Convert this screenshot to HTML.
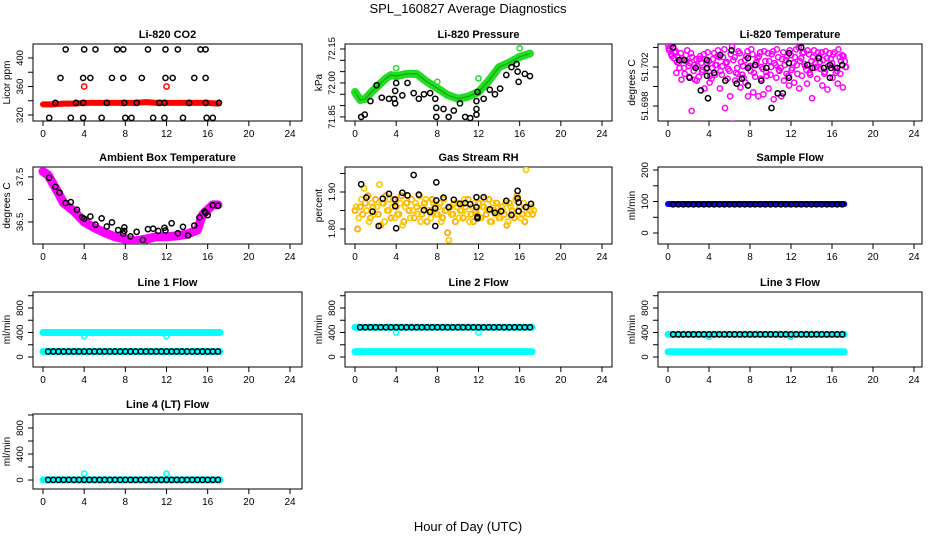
<!DOCTYPE html>
<html><head><meta charset="utf-8"><style>
html,body{margin:0;padding:0;background:#fff;}
svg{display:block;font-family:"Liberation Sans",sans-serif;}
</style></head><body>
<svg id="chart" width="936" height="540" viewBox="0 0 936 540" xmlns="http://www.w3.org/2000/svg">
<rect x="0" y="0" width="936" height="540" fill="#fff"/>
<text x="468" y="13" text-anchor="middle" font-size="13">SPL_160827  Average Diagnostics</text>
<text x="468" y="531" text-anchor="middle" font-size="13">Hour of Day (UTC)</text>
</svg>
<script>
// ---------- data ----------
const xTicks = [0,4,8,12,16,20,24];
// CO2
const co2RedHours = [0,1,2,3,4,5,6,7,8,9,10,11,12,13,14,15,16,17];
const co2Red = [335,335,336,336,337,337,337,337,337,337,338,337,337,337,337,337,337,336];
const co2BlackHours = [2.2,4.0,5.1,7.2,7.8,10.2,11.9,13.1,15.3,15.8, 1.7,3.9,4.6,6.7,7.8,9.6,11.9,12.6,14.7,15.8, 1.2,3.2,3.9,6.2,7.9,9.1,11.3,11.8,14.2,15.8,17.1, 0.6,2.7,3.9,5.7,8.0,8.6,10.7,11.8,13.6,15.9,16.5];
const co2Black = [412,412,412,412,412,412,412,412,412,412, 372,372,372,372,372,372,372,372,372,372, 337,337,337,337,337,337,337,337,337,337,337, 316,316,316,316,316,316,316,316,316,316,316];
const co2OutHours = [4.0,12.0];
const co2Out = [360,360];
// Pressure
const presGreenHours = [0,0.5,1,1.5,2,3,3.5,4,5,6,7,8,9,10,11,12,13,14,15,16,17];
const presGreen = [71.96,71.925,71.93,71.955,71.977,72.02,72.035,72.03,72.04,72.04,72.005,71.977,71.947,71.93,71.94,71.96,72.01,72.07,72.09,72.115,72.13];
const presGreenOutHours = [0,4.0,8.0,12.0,16.0];
const presGreenOut = [71.96,72.065,72.005,72.02,72.153];
const presBlackHours = [0.6,0.95,1.5,2.1,2.6,3.3,3.8,3.9,3.9,4.0,4.6,5.1,5.7,6.2,6.7,7.3,7.8,7.9,7.9,8.6,9.1,9.6,10.2,10.7,11.2,11.8,11.8,11.8,11.9,12.5,13.1,13.6,14.1,14.7,15.2,15.7,15.8,15.9,16.5,17.0];
const presBlack = [71.85,71.86,71.92,71.99,71.935,71.93,71.93,71.91,71.965,72.0,71.945,72.0,71.955,71.93,71.95,71.955,71.93,71.89,71.85,71.885,71.85,71.878,71.91,71.85,71.845,71.885,71.86,71.92,71.96,71.93,71.97,71.95,71.975,72.035,72.07,72.083,72.05,72.005,72.04,72.03];
// Li-820 temperature
const tempMagA = [51.7043,51.7041,51.7039,51.7036,51.7030,51.7034,51.7027,51.7032,51.7021,51.7034,51.7016,51.7028,51.7010,51.7024,51.7033,51.7018,51.7026,51.7008,51.7034,51.7022,51.7030,51.7012,51.7038,51.7025,51.7016,51.7041,51.7030,51.7019,51.7034,51.7012,51.7027,51.7036,51.7021,51.7033,51.7010,51.7029,51.7035,51.7018,51.7026,51.7034,51.7012,51.7036,51.7022,51.7030,51.7019,51.7035,51.7027,51.7011,51.7032,51.7024,51.7038,51.7040,51.7029,51.7035,51.7017,51.7033,51.7026,51.7037,51.7020,51.7031,51.7035,51.7013,51.7029,51.7034,51.7024,51.7035,51.7016,51.7030,51.7032,51.7026];
const tempMagB = [51.7039,51.7033,51.7029,51.7014,51.7024,51.7007,51.7019,51.7026,51.7010,51.6975,51.7022,51.7006,51.7028,51.7015,51.6998,51.7024,51.7004,51.7019,51.7012,51.7031,51.6998,51.7021,51.6978,51.7008,51.6990,51.6962,51.7006,51.7013,51.6999,51.7021,51.7004,51.6990,51.7016,51.6994,51.7022,51.6990,51.7008,51.6992,51.7015,51.6998,51.7020,51.6987,51.7009,51.7017,51.6990,51.7006,51.7013,51.7001,51.7017,51.7004,51.7022,51.6998,51.7011,51.7023,51.7003,51.7014,51.6988,51.7019,51.7008,51.7025,51.7001,51.7015,51.6997,51.7022,51.7009,51.7019,51.7003,51.7013,51.6999,51.7020];
const tempMagC = [51.7037,51.7031,51.7035,51.7025,51.7019,51.7029,51.7013,51.7037,51.7024,51.7030,51.7007,51.7021,51.7031,51.7017,51.7028,51.7035,51.7011,51.7028,51.7022,51.7037,51.7016,51.7030,51.7024,51.7018,51.7033,51.7027,51.7014,51.7036,51.7025,51.7009,51.7031,51.7020,51.7038,51.7014,51.7025,51.7031,51.7020,51.7036,51.7011,51.7026,51.7033,51.7024,51.7038,51.7016,51.7028,51.7022,51.7031,51.7037,51.7019,51.7030,51.7013,51.7026,51.7034,51.7021,51.7037,51.7012,51.7030,51.7024,51.7035,51.7018,51.7027,51.7036,51.7021,51.7028,51.7033,51.7014,51.7038,51.7026,51.7031,51.7020];
const tempBlackHours = [0.5,1.1,1.6,2.7,2.1,3.2,3.8,3.8,3.8,3.9,4.5,5.1,5.6,6.2,6.7,7.2,7.8,7.8,7.8,8.5,9.1,9.6,10.1,10.7,11.2,11.8,11.8,11.8,13.0,13.6,14.1,14.7,15.2,15.8,15.8,15.9,16.5,17.0];
const tempBlack = [51.704,51.7027,51.7027,51.7019,51.7009,51.6996,51.7027,51.7019,51.7011,51.6988,51.7014,51.7032,51.7006,51.7037,51.7003,51.7008,51.7029,51.7019,51.7001,51.7022,51.7006,51.7019,51.6978,51.6993,51.6993,51.7034,51.7024,51.7009,51.704,51.7022,51.7019,51.7029,51.7019,51.7022,51.7009,51.7019,51.7019,51.7022];
// Ambient box temperature
const ambHours = [0,0.5,1,1.5,2,3,4,5,6,7,8,9,10,11,12,13,14,15,15.5,16,16.5,17];
const ambMag = [37.62,37.54,37.34,37.14,36.92,36.74,36.5,36.37,36.26,36.17,36.12,36.08,36.12,36.17,36.17,36.19,36.23,36.32,36.66,36.77,36.88,36.88];
const ambBlackHours = [0.6,1.2,1.6,2.2,2.7,3.3,3.8,4.0,4.6,5.1,5.7,6.2,6.7,7.3,7.8,7.9,7.9,8.5,9.1,9.7,10.2,10.7,11.2,11.8,11.9,12.5,13.1,13.6,14.1,14.7,15.2,15.7,15.8,16.0,16.5,17.0];
const ambBlack = [37.48,37.28,37.15,36.92,36.94,36.77,36.6,36.57,36.62,36.44,36.58,36.4,36.49,36.32,36.24,36.38,36.3,36.18,36.28,36.1,36.34,36.35,36.3,36.37,36.31,36.47,36.25,36.39,36.2,36.42,36.6,36.73,36.7,36.65,36.87,36.86];
// Gas stream RH
const rhA = [1.85,1.80,1.86,1.84,1.87,1.89,1.83,1.86,1.88,1.84,1.81,1.87,1.89,1.85,1.83,1.88,1.86,1.84,1.89,1.82,1.87,1.85,1.88,1.83,1.86,1.89,1.84,1.87,1.82,1.85,1.88,1.86,1.84,1.87,1.83,1.85,1.79,1.86,1.84,1.82,1.87,1.85,1.83,1.86,1.88,1.84,1.82,1.85,1.87,1.83,1.86,1.84,1.88,1.82,1.85,1.87,1.83,1.86,1.84,1.81,1.87,1.85,1.83,1.89,1.86,1.84,1.82,1.86,1.85,1.84];
const rhB = [1.86,1.83,1.88,1.91,1.85,1.82,1.87,1.84,1.86,1.92,1.87,1.82,1.85,1.88,1.86,1.83,1.84,1.87,1.81,1.86,1.89,1.83,1.85,1.87,1.84,1.82,1.86,1.88,1.85,1.83,1.87,1.84,1.86,1.82,1.88,1.85,1.77,1.84,1.87,1.86,1.83,1.85,1.88,1.84,1.82,1.86,1.87,1.84,1.83,1.86,1.88,1.85,1.82,1.87,1.84,1.86,1.83,1.85,1.87,1.82,1.86,1.84,1.88,1.85,1.83,1.87,1.96,1.84,1.86,1.85];
const rhBlackHours = [0.6,1.1,1.7,2.3,2.7,3.3,3.9,3.9,4.0,4.6,5.1,5.7,6.2,6.7,7.3,7.8,7.8,7.9,7.9,8.6,9.1,9.6,10.2,10.7,11.2,11.8,11.8,11.9,11.9,12.5,13.1,13.6,14.2,14.7,15.2,15.8,15.8,15.9,15.9,16.6,17.1];
const rhBlack = [1.921,1.885,1.847,1.808,1.882,1.895,1.880,1.862,1.802,1.898,1.891,1.946,1.893,1.851,1.846,1.856,1.808,1.877,1.926,1.885,1.859,1.879,1.868,1.870,1.867,1.886,1.859,1.833,1.829,1.886,1.853,1.844,1.848,1.876,1.838,1.883,1.903,1.872,1.848,1.859,1.868];
// Flows
const bandHours = [0,4,8,12,16,17.2];
const sampleBlue = [92,92,92,92,92,92];
const line1Hi = [400,400,400,400,400,400];
const line1Lo = [90,90,90,90,90,90];
const line2Hi = [485,485,485,485,485,485];
const line2Lo = [88,88,88,88,88,88];
const line3Hi = [370,370,370,370,370,370];
const line3Lo = [85,85,85,85,85,85];
const line4Band = [2,2,2,2,2,2];
const flowOutHours = [4,12];
const line1Out = [340,340];
const line2Out = [400,400];
const line3Out = [330,330];
const line4Out = [100,100];
const sampleBlack = [91,91,91,91,91,91,91,91,91,91,91,91,91,91,91,91,91,91,91,91,91,91,91,91,91,91,91,91,91,91,91,91,91,91];
const line1Black = [90,90,90,90,90,90,90,90,90,90,90,90,90,90,90,90,90,90,90,90,90,90,90,90,90,90,90,90,90,90,90,90,90,90];
const line2Black = [485,485,485,485,485,485,485,485,485,485,485,485,485,485,485,485,485,485,485,485,485,485,485,485,485,485,485,485,485,485,485,485,485,485];
const line3Black = [370,370,370,370,370,370,370,370,370,370,370,370,370,370,370,370,370,370,370,370,370,370,370,370,370,370,370,370,370,370,370,370,370,370];
const line4Black = [2,2,2,2,2,2,2,2,2,2,2,2,2,2,2,2,2,2,2,2,2,2,2,2,2,2,2,2,2,2,2,2,2,2];

// ---------- drawing ----------
const NS = "http://www.w3.org/2000/svg";
const svg = document.getElementById('chart');
function mk(tag, attrs, parent){
  const e = document.createElementNS(NS, tag);
  for (const k in attrs) e.setAttribute(k, attrs[k]);
  (parent||svg).appendChild(e);
  return e;
}
const cols = [{l:33,r:302,z:43,f:290},{l:345,r:612,z:355,f:602},{l:658,r:922,z:668,f:914}];
const rows = [{t:44,b:121},{t:167,b:244},{t:292,b:367},{t:414,b:489}];

function panel(name, title, ci, ri, ylo, yhi, yTicks, yLabels, yTitle){
  const c = cols[ci], r = rows[ri];
  const g = mk('g', {});
  
  
  const xs = h => c.z + (c.f - c.z) * h / 24;
  const ys = v => r.b - (v - ylo) / (yhi - ylo) * (r.b - r.t);
  const box = mk('rect', {x:c.l, y:r.t, width:c.r-c.l, height:r.b-r.t, fill:'none', stroke:'#000', 'stroke-width':1}, g);
  
  
  const tt = mk('text', {x:(c.l+c.r)/2, y:r.t-6, 'text-anchor':'middle', 'font-size':11, 'font-weight':'bold'}, g);
  
  
  tt.textContent = title;
  xTicks.forEach(t => {
    const x = xs(t);
    mk('line', {x1:x, x2:x, y1:r.b, y2:r.b+5, stroke:'#000'}, g);
    const lb = mk('text', {x:x, y:r.b+16, 'text-anchor':'middle', 'font-size':10}, g);
    
    
    lb.textContent = t;
  });
  yTicks.forEach(t => {
    const y = ys(t);
    mk('line', {x1:c.l-5, x2:c.l, y1:y, y2:y, stroke:'#000'}, g);
  });
  yLabels.forEach(t => {
    const y = ys(t[0]);
    const lb = mk('text', {x:c.l-10, y:y, 'text-anchor':'middle', 'font-size':9.5, transform:`rotate(-90 ${c.l-10} ${y})`}, g);
    
    
    lb.textContent = t[1];
  });
  const ty = (r.t+r.b)/2;
  const yt = mk('text', {x:c.l-23, y:ty, 'text-anchor':'middle', 'font-size':10, transform:`rotate(-90 ${c.l-23} ${ty})`}, g);
  
  
  yt.textContent = yTitle;
  const clip = 'clip' + name;
  const cp = mk('clipPath', {id:clip}, g);
  mk('rect', {x:c.l, y:r.t, width:c.r-c.l, height:r.b-r.t}, cp);
  const data = mk('g', {'clip-path':`url(#${clip})`}, g);
  return {xs, ys, g:data};
}
function points(p, hours, vals, color, name, rad, sw){
  vals.forEach((v,i) => {
    const e = mk('circle', {cx:p.xs(hours[i]), cy:p.ys(v), r:rad||2.6, fill:'none', stroke:color, 'stroke-width':sw||1.5}, p.g);
    
    
  });
}
function stepPoints(p, start, step, vals, color, name, rad, sw){
  const hours = vals.map((v,i) => start + i*step);
  points(p, hours, vals, color, name, rad, sw);
}
function band(p, hours, vals, color, width, name){
  const pts = vals.map((v,i) => p.xs(hours[i]) + ',' + p.ys(v)).join(' ');
  const e = mk('polyline', {points:pts, fill:'none', stroke:color, 'stroke-width':width, 'stroke-linejoin':'round', 'stroke-linecap':'round'}, p.g);
  
  
}

let p = panel('co2-panel', 'Li-820 CO2', 0, 0, 311.6, 419.6, [320,340,360,380,400], [[320,'320'],[360,'360'],[400,'400']], 'Licor ppm');
band(p, co2RedHours, co2Red, '#ff0000', 6, 'co2-red-series');
points(p, co2OutHours, co2Out, '#ff0000', 'co2-red-point');
points(p, co2BlackHours, co2Black, '#000', 'co2-black-point');

p = panel('pressure-panel', 'Li-820 Pressure', 1, 0, 71.832, 72.172, [71.85,71.9,71.95,72.0,72.05,72.1,72.15], [[71.85,'71.85'],[72.0,'72.00'],[72.15,'72.15']], 'kPa');
band(p, presGreenHours, presGreen, '#22dd22', 8, 'pressure-green-series');
band(p, presGreenHours, presGreen, '#119911', 1, 'pressure-green-core');
points(p, presGreenOutHours, presGreenOut, '#22dd22', 'pressure-green-point');
points(p, presBlackHours, presBlack, '#000', 'pressure-black-point');

p = panel('temperature-panel', 'Li-820 Temperature', 2, 0, 51.69647, 51.70435, [51.698,51.7,51.702,51.704], [[51.698,'51.698'],[51.702,'51.702']], 'degrees C');
stepPoints(p, 0, 0.25, tempMagA, '#ff00ff', 'temp-magenta-point');
stepPoints(p, 0.125, 0.25, tempMagC, '#ff00ff', 'temp-magenta-point');
stepPoints(p, 0.06, 0.25, tempMagB, '#ff00ff', 'temp-magenta-point');
points(p, tempBlackHours, tempBlack, '#000', 'temp-black-point');

p = panel('ambient-panel', 'Ambient Box Temperature', 0, 1, 36.01, 37.72, [36.5,37.0,37.5], [[36.5,'36.5'],[37.5,'37.5']], 'degrees C');
band(p, ambHours, ambMag, '#ff00ff', 9, 'ambient-magenta-series');
points(p, ambBlackHours, ambBlack, '#000', 'ambient-black-point');

p = panel('rh-panel', 'Gas Stream RH', 1, 1, 1.7595, 1.9676, [1.8,1.85,1.9,1.95], [[1.8,'1.80'],[1.9,'1.90']], 'percent');
stepPoints(p, 0, 0.25, rhA, '#ffaa00', 'rh-orange-point', 2.6, 1.8);
stepPoints(p, 0.125, 0.25, rhB, '#ffcc00', 'rh-yellow-point', 2.6, 1.8);
points(p, rhBlackHours, rhBlack, '#000', 'rh-black-point');

p = panel('sample-flow-panel', 'Sample Flow', 2, 1, -34.9, 209.5, [0,50,100,150,200], [[0,'0'],[100,'100'],[200,'200']], 'ml/min');
band(p, bandHours, sampleBlue, '#0000ff', 6, 'sample-blue-series');
stepPoints(p, 0.5, 0.5, sampleBlack, '#000', 'sample-black-point');

const flowTicks = [0,200,400,600,800,1000];
const flowLabels = [[0,'0'],[400,'400'],[800,'800']];
p = panel('line1-panel', 'Line 1 Flow', 0, 2, -163, 1061, flowTicks, flowLabels, 'ml/min');
band(p, bandHours, line1Hi, '#00ffff', 7, 'line1-cyan-high');
band(p, bandHours, line1Lo, '#00ffff', 7, 'line1-cyan-low');
points(p, flowOutHours, line1Out, '#00ffff', 'line1-cyan-point');
stepPoints(p, 0.5, 0.5, line1Black, '#000', 'line1-black-point');

p = panel('line2-panel', 'Line 2 Flow', 1, 2, -163, 1061, flowTicks, flowLabels, 'ml/min');
band(p, bandHours, line2Hi, '#00ffff', 7, 'line2-cyan-high');
band(p, bandHours, line2Lo, '#00ffff', 7, 'line2-cyan-low');
points(p, flowOutHours, line2Out, '#00ffff', 'line2-cyan-point');
stepPoints(p, 0.5, 0.5, line2Black, '#000', 'line2-black-point');

p = panel('line3-panel', 'Line 3 Flow', 2, 2, -163, 1061, flowTicks, flowLabels, 'ml/min');
band(p, bandHours, line3Hi, '#00ffff', 7, 'line3-cyan-high');
band(p, bandHours, line3Lo, '#00ffff', 7, 'line3-cyan-low');
points(p, flowOutHours, line3Out, '#00ffff', 'line3-cyan-point');
stepPoints(p, 0.5, 0.5, line3Black, '#000', 'line3-black-point');

p = panel('line4-panel', 'Line 4 (LT) Flow', 0, 3, -138, 1015, flowTicks, flowLabels, 'ml/min');
band(p, bandHours, line4Band, '#00ffff', 7, 'line4-cyan-series');
points(p, flowOutHours, line4Out, '#00ffff', 'line4-cyan-point');
stepPoints(p, 0.5, 0.5, line4Black, '#000', 'line4-black-point');
</script>
</body></html>
